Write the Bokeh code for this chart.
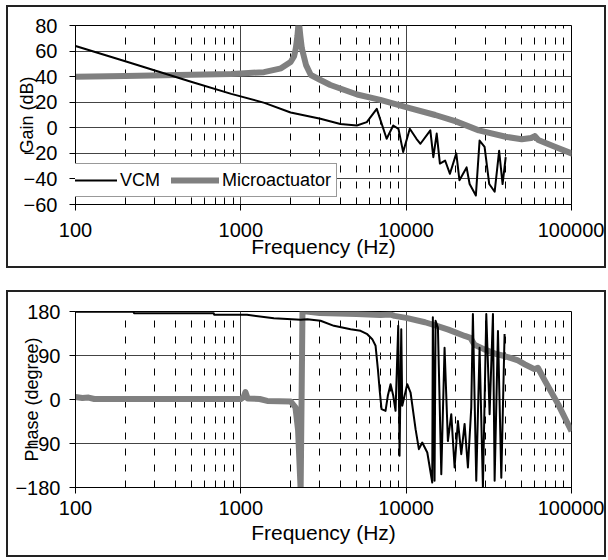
from bokeh.plotting import figure
from bokeh.layouts import column
from bokeh.models import FixedTicker, Legend, LegendItem
from bokeh.embed import file_html
from bokeh.resources import INLINE

FONT = "Liberation Sans"
GRAY = "#808080"

# ---- axis ticks ----
freq_ticks = [100, 1000, 10000, 100000]
freq_tick_labels = ["100", "1000", "10000", "100000"]
freq_minor = [m * d for d in (100, 1000, 10000) for m in range(2, 10)]
gain_ticks = [-60, -40, -20, 0, 20, 40, 60, 80]
phase_ticks = [-180, -90, 0, 90, 180]

# ---- gain data (dB) ----
vcm_gain_f = [100, 200, 500, 875, 1390, 2000, 3030, 4000, 5030, 5780, 6640, 7620, 8350, 8980,
              9590, 10520, 11540, 12200, 14000, 14600, 15300, 16000, 17200, 18400, 20100, 21000,
              23200, 24200, 26400, 27800, 29800, 31800, 34300, 36500, 38300, 40000]
vcm_gain = [64, 52, 36, 26.5, 19.5, 12, 7, 3, 1.8, 4.4, 14.8, -8.6, 1.8, -0.8,
            -19, -0.8, -8.6, -12.5, -2, -23, -4.5, -28, -25.6, -36, -20, -41,
            -31, -44, -53, -10, -15, -44, -50, -18, -44, -23]

ma_gain_f = [100, 200, 500, 875, 1000, 1380, 1750, 2000, 2100, 2150, 2200, 2240, 2290, 2340,
             2480, 2650, 3030, 3480, 5050, 6980, 10500, 15000, 20000, 27500, 40000, 50000,
             57000, 60000, 63000, 80000, 100000]
ma_gain = [40, 40.5, 41.5, 42, 42.5, 43.5, 46.5, 51.5, 56, 62, 72, 84, 72, 62,
           49, 41.3, 37.4, 33.5, 26, 21.8, 15.3, 10, 5, -2, -7, -9,
           -8, -6.5, -9.5, -15, -20]

# ---- phase data (degree) ----
vcm_phase_f = [100, 224, 226, 686, 690, 1090, 1584, 2300, 2522, 3036, 3656, 4613, 5297, 5820,
               6236, 6531, 6744, 6934, 7097, 7502, 7745, 8047, 8355, 8626, 8954, 9120, 9340,
               9470, 10150, 10630, 11400, 11940, 12510, 13420, 14380, 14500, 14850, 15060,
               15560, 16310, 17070, 17880, 18740, 19630, 20560, 21540, 22560, 23630, 24760,
               25330, 26540, 27800, 29120, 30520, 31970, 33490, 34280, 35910, 37620, 39380]
vcm_phase = [179.5, 179.5, 176.6, 176.6, 173.2, 173.2, 166.4, 163, 164.3, 161, 150.7, 143.9,
             140.5, 133.6, 123.4, 109.8, 62, 14.3, -19.8, -23.2, 7.5, 31.4, 7.5, -23.2, 150.7,
             -115, 143.9, -13, 31.4, 14.3, -60.7, -101.6, -88, -108.4, -169.8, 168, -166, 161,
             147, -153, 106, -85, -30, -139, -44, -112, -50, -139, -16, 175, -166, 106, -180,
             175, -30, 175, -166, 140, -160, 134]

ma_phase_f = [100, 110, 120, 130, 200, 500, 1000, 1040, 1067, 1100, 1300, 1444, 2000, 2140,
              2220, 2300, 2360, 3000, 5000, 7000, 8000, 8500, 10000, 13000, 15500, 18000,
              22600, 24500, 25900, 29500, 35000, 39300, 47400, 52200, 59600, 62600, 69100,
              83100, 100000]
ma_phase = [5, 3, 4, 1, 1, 1, 1, 5, 15, 2, 1, -3, -4, -16,
            -63, -185, 181, 177, 175, 173, 174, 171, 167, 158, 150, 143,
            130, 126, 112, 103, 93, 89, 80, 72, 62, 65, 38,
            -10, -65]


def make_fig(y_range, y_ticks, y_title, w, h, bl, br, bt, bb,
             xl_standoff, xt_standoff, yl_standoff, yt_standoff):
    p = figure(width=w, height=h, x_axis_type="log", x_range=(100, 100000), y_range=y_range,
               output_backend="svg", toolbar_location=None,
               min_border_left=bl, min_border_right=br, min_border_top=bt, min_border_bottom=bb,
               styles={"border": "2px solid #222222"})
    p.background_fill_color = "white"
    p.border_fill_color = "white"
    p.outline_line_color = "black"
    p.outline_line_width = 1

    p.xaxis.ticker = FixedTicker(ticks=freq_ticks, minor_ticks=freq_minor)
    p.xaxis.major_label_overrides = dict(zip(freq_ticks, freq_tick_labels))
    p.yaxis.ticker = FixedTicker(ticks=y_ticks)

    for ax in (p.xaxis[0], p.yaxis[0]):
        ax.axis_line_color = "black"
        ax.axis_line_width = 1
        ax.major_tick_line_color = "black"
        ax.major_tick_in = 0
        ax.major_tick_out = 6
        ax.minor_tick_line_color = None
        ax.major_label_text_font = FONT
        ax.major_label_text_font_size = "20px"
        ax.major_label_text_color = "black"
        ax.axis_label_text_font = FONT
        ax.axis_label_text_font_style = "normal"
        ax.axis_label_text_color = "black"
    p.xaxis.axis_label_text_font_size = "21px"
    p.yaxis.axis_label_text_font_size = "18px"

    p.xaxis.axis_label = "Frequency (Hz)"
    p.yaxis.axis_label = y_title
    p.xaxis.major_label_standoff = xl_standoff
    p.xaxis.axis_label_standoff = xt_standoff
    p.yaxis.major_label_standoff = yl_standoff
    p.yaxis.axis_label_standoff = yt_standoff

    p.xgrid.grid_line_color = "#444444"
    p.xgrid.grid_line_width = 1
    p.xgrid.minor_grid_line_color = "black"
    p.xgrid.minor_grid_line_width = 1
    p.xgrid.minor_grid_line_dash = "7 9"
    p.ygrid.grid_line_color = "#444444"
    p.ygrid.grid_line_width = 1
    return p


# ---- Gain panel ----
p1 = make_fig((-60, 80), gain_ticks, "Gain (dB)", 600, 263, 65, 33, 18, 66,
              12, -5, 12, -16)
r_ma = p1.line(ma_gain_f, ma_gain, line_color=GRAY, line_width=6, line_join="round",
               line_cap="round")
r_vcm = p1.line(vcm_gain_f, vcm_gain, line_color="black", line_width=2, line_join="round")

legend = Legend(items=[LegendItem(label="VCM", renderers=[r_vcm]),
                       LegendItem(label="Microactuator", renderers=[r_ma])],
                orientation="horizontal", location=(-12, 7), margin=0,
                padding=5, spacing=11, glyph_width=48, glyph_height=22, label_standoff=3,
                label_text_font=FONT, label_text_font_size="18px", label_text_color="black",
                border_line_color="#333333", border_line_width=1,
                background_fill_color="white", background_fill_alpha=1.0)
p1.add_layout(legend, "center")

# ---- Phase panel ----
p2 = make_fig((-180, 180), phase_ticks, "Phase (degree)", 600, 267, 67, 37, 19, 72,
              7, 3, 9, -30)
p2.line(ma_phase_f, ma_phase, line_color=GRAY, line_width=6, line_join="round")
p2.line(vcm_phase_f, vcm_phase, line_color="black", line_width=2, line_join="round")

layout = column(p1, p2, spacing=22, margin=(5, 0, 0, 6))

open("out.html", "w").write(file_html(layout, INLINE))
